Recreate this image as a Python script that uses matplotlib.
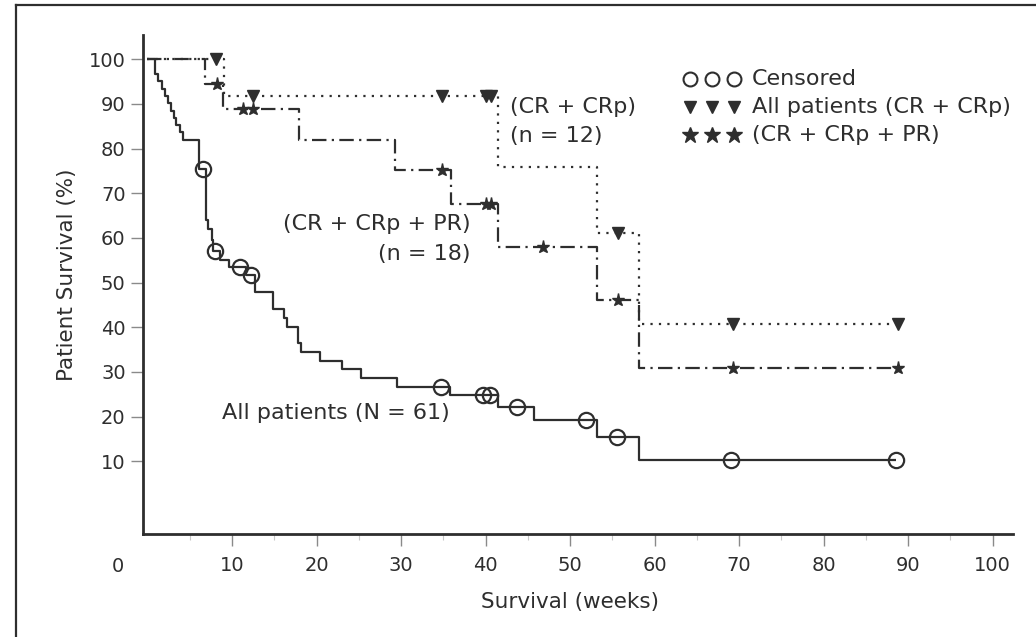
import numpy as np
import matplotlib
matplotlib.use("Agg")
import matplotlib.pyplot as plt
from matplotlib.lines import Line2D


# =========================
# DATA
# =========================

# All patients (N = 61): step times (weeks) and survival (%) after each step
all_t = [0, 0.9, 1.3, 1.7, 2.1, 2.4, 2.8, 3.1, 3.4, 3.8, 4.2, 6.1, 6.9, 7.2,
         7.6, 7.8, 8.6, 9.6, 11.6, 12.7, 14.9, 16.1, 16.5, 17.8, 18.2, 20.4,
         23.0, 25.3, 29.5, 35.8, 41.5, 45.7, 53.2, 58.1]
all_s = [100, 96.7, 95.1, 93.4, 91.8, 90.2, 88.5, 86.9, 85.2, 83.6, 82.0, 75.5,
         64.0, 62.1, 59.5, 57.1, 55.0, 53.5, 51.7, 47.9, 44.0, 42.0, 40.1, 36.4,
         34.5, 32.5, 30.6, 28.6, 26.7, 24.8, 22.2, 19.2, 15.4, 10.3]
all_end = 88.5
all_censored = [6.6, 8.0, 10.95, 12.3, 34.7, 39.7, 40.5, 43.7, 51.9, 55.5, 69.0, 88.5]

# CR + CRp (n = 12)
cr_t = [0, 9.0, 41.5, 53.2, 58.1]
cr_s = [100, 91.7, 75.9, 61.0, 40.7]
cr_end = 88.8
cr_censored = [8.1, 12.45, 34.9, 40.1, 40.7, 55.7, 69.25, 88.8]

# CR + CRp + PR (n = 18)
pr_t = [0, 6.8, 8.9, 17.9, 29.3, 35.9, 41.5, 53.2, 58.1]
pr_s = [100, 94.4, 88.9, 82.0, 75.2, 67.6, 58.0, 46.2, 30.8]
pr_end = 88.8
pr_censored = [8.2, 11.3, 12.5, 34.9, 40.1, 40.7, 46.8, 55.7, 69.25, 88.8]

x_ticks = [10, 20, 30, 40, 50, 60, 70, 80, 90, 100]
y_ticks = [10, 20, 30, 40, 50, 60, 70, 80, 90, 100]

INK = "#2e2e2e"


def level_at(times, values, when):
    """Survival level of a step curve at the given times."""
    idx = np.searchsorted(times, when, side="right") - 1
    return np.asarray(values)[idx]


def draw_curve(ax, times, values, end, ls, lw=1.6):
    xs = list(times) + [end]
    ys = list(values) + [values[-1]]
    ax.step(xs, ys, where="post", color=INK, linestyle=ls, linewidth=lw,
            dash_capstyle="butt", solid_capstyle="butt")


# =========================
# FIGURE
# =========================

fig = plt.figure(figsize=(10.36, 6.37), dpi=100)
ax = fig.add_axes([143 / 1036, 103 / 637, 870 / 1036, 499 / 637])

# outer frame (top and left only)
fig.add_artist(Line2D([16 / 1036, 1.0], [632 / 637, 632 / 637],
                      transform=fig.transFigure, color=INK, lw=1.6))
fig.add_artist(Line2D([16 / 1036, 16 / 1036], [0, 632 / 637],
                      transform=fig.transFigure, color=INK, lw=1.6))

# curves
draw_curve(ax, all_t, all_s, all_end, "-", lw=1.6)
draw_curve(ax, cr_t, cr_s, cr_end, (0, (1, 2.8)), lw=1.6)
draw_curve(ax, pr_t, pr_s, pr_end, (0, (6.5, 2.4, 1, 2.4)), lw=1.6)

# censor marks
ax.plot(all_censored, level_at(all_t, all_s, all_censored), "o", ms=11,
        mfc="none", mec=INK, mew=1.6, clip_on=False)
ax.plot(cr_censored, level_at(cr_t, cr_s, cr_censored), "v", ms=8.5,
        color=INK, clip_on=False)
ax.plot(pr_censored, level_at(pr_t, pr_s, pr_censored), "*", ms=9.5,
        color=INK, clip_on=False)

# annotations
ax.text(42.9, 89.3, "(CR + CRp)", fontsize=16, color=INK, ha="left", va="center")
ax.text(42.9, 82.8, "(n = 12)", fontsize=16, color=INK, ha="left", va="center")
ax.text(38.2, 63.2, "(CR + CRp + PR)", fontsize=16, color=INK, ha="right", va="center")
ax.text(38.2, 56.5, "(n = 18)", fontsize=16, color=INK, ha="right", va="center")
ax.text(8.8, 20.9, "All patients (N = 61)", fontsize=16, color=INK, ha="left", va="center")

# legend drawn by hand
leg_x = [64.2, 66.8, 69.4]
ax.plot(leg_x, [95.6] * 3, "o", ms=10, mfc="none", mec=INK, mew=1.5, clip_on=False)
ax.plot(leg_x, [89.3] * 3, "v", ms=8, color=INK, clip_on=False)
ax.plot(leg_x, [83.1] * 3, "*", ms=12, color=INK, clip_on=False)
ax.text(71.5, 95.6, "Censored", fontsize=16, color=INK, va="center")
ax.text(71.5, 89.3, "All patients (CR + CRp)", fontsize=16, color=INK, va="center")
ax.text(71.5, 83.1, "(CR + CRp + PR)", fontsize=16, color=INK, va="center")

# axes
ax.set_xlim(-0.53, 102.4)
ax.set_ylim(-6.26, 105.4)
ax.spines["top"].set_visible(False)
ax.spines["right"].set_visible(False)
ax.spines["left"].set_linewidth(2.0)
ax.spines["bottom"].set_linewidth(2.0)
ax.spines["left"].set_color(INK)
ax.spines["bottom"].set_color(INK)

ax.set_xticks(x_ticks)
ax.set_yticks(y_ticks)
ax.set_xticks(np.arange(5, 100, 10), minor=True)
ax.tick_params(axis="both", which="major", length=8.5, width=1.0,
               color="#8a8a8a", labelsize=14, labelcolor=INK)
ax.tick_params(axis="x", which="major", pad=7)
ax.tick_params(axis="y", which="major", pad=4)
ax.tick_params(axis="x", which="minor", length=4, width=0.8, color="#c8c8c8")

ax.text(-0.0287, -0.066, "0", transform=ax.transAxes, fontsize=14,
        color=INK, ha="center", va="center")

ax.set_xlabel("Survival (weeks)", fontsize=15.5, color=INK)
ax.xaxis.label.set_va("center")
ax.xaxis.set_label_coords(0.491, -0.136)
ax.set_ylabel("Patient Survival (%)", fontsize=15.5, color=INK)
ax.yaxis.label.set_va("center")
ax.yaxis.set_label_coords(-0.0877, 0.519)

fig.savefig("out.png", dpi=100)
